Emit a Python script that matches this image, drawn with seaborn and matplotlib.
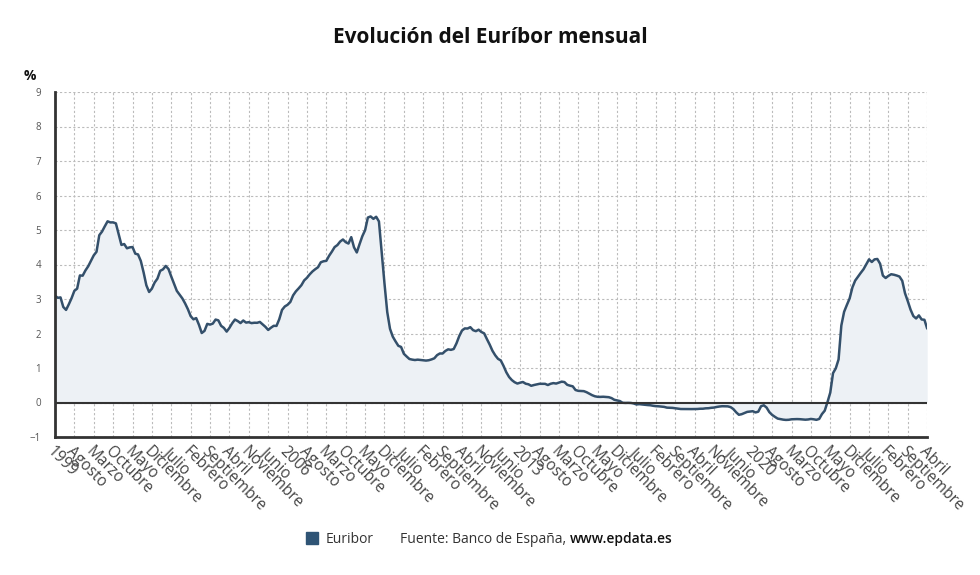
import numpy as np
import pandas as pd
import seaborn as sns
import matplotlib.pyplot as plt
from matplotlib.ticker import MultipleLocator
from matplotlib.lines import Line2D

# Euribor mensual (Banco de España), enero 1999 - abril 2025
euribor = [
    3.095, 3.035, 3.046, 2.769, 2.684, 2.847, 3.025, 3.237, 3.300, 3.683, 3.676, 3.828,  # 1999
    3.949, 4.109, 4.265, 4.369, 4.849, 4.955, 5.108, 5.252, 5.220, 5.221, 5.191, 4.880,  # 2000
    4.567, 4.593, 4.470, 4.497, 4.506, 4.315, 4.291, 4.102, 3.773, 3.398, 3.204, 3.301,  # 2001
    3.478, 3.590, 3.816, 3.859, 3.958, 3.868, 3.650, 3.445, 3.236, 3.126, 3.017, 2.872,  # 2002
    2.705, 2.504, 2.411, 2.447, 2.252, 2.014, 2.076, 2.279, 2.258, 2.287, 2.404, 2.381,  # 2003
    2.223, 2.163, 2.055, 2.163, 2.297, 2.404, 2.361, 2.302, 2.377, 2.316, 2.328, 2.301,  # 2004
    2.312, 2.310, 2.335, 2.265, 2.193, 2.103, 2.168, 2.223, 2.220, 2.414, 2.684, 2.783,  # 2005
    2.833, 2.914, 3.105, 3.221, 3.308, 3.401, 3.539, 3.615, 3.715, 3.799, 3.864, 3.921,  # 2006
    4.064, 4.094, 4.106, 4.253, 4.373, 4.505, 4.564, 4.666, 4.725, 4.647, 4.607, 4.793,  # 2007
    4.498, 4.349, 4.590, 4.820, 4.994, 5.361, 5.393, 5.323, 5.384, 5.248, 4.350, 3.452,  # 2008
    2.622, 2.135, 1.909, 1.771, 1.644, 1.610, 1.412, 1.334, 1.261, 1.243, 1.231, 1.242,  # 2009
    1.232, 1.225, 1.215, 1.225, 1.249, 1.281, 1.373, 1.421, 1.420, 1.495, 1.541, 1.526,  # 2010
    1.550, 1.714, 1.924, 2.086, 2.147, 2.144, 2.183, 2.097, 2.067, 2.110, 2.044, 2.004,  # 2011
    1.837, 1.678, 1.499, 1.368, 1.266, 1.219, 1.061, 0.877, 0.740, 0.650, 0.588, 0.549,  # 2012
    0.575, 0.594, 0.545, 0.528, 0.484, 0.507, 0.525, 0.542, 0.543, 0.541, 0.506, 0.543,  # 2013
    0.562, 0.549, 0.577, 0.604, 0.592, 0.513, 0.488, 0.469, 0.362, 0.338, 0.335, 0.329,  # 2014
    0.298, 0.255, 0.212, 0.180, 0.165, 0.163, 0.167, 0.161, 0.154, 0.128, 0.079, 0.059,  # 2015
    0.042, -0.008, -0.012, -0.010, -0.013, -0.028, -0.056, -0.048, -0.057, -0.069, -0.074, -0.080,  # 2016
    -0.095, -0.106, -0.110, -0.119, -0.127, -0.149, -0.154, -0.156, -0.168, -0.180, -0.189, -0.190,  # 2017
    -0.189, -0.191, -0.191, -0.190, -0.188, -0.181, -0.180, -0.169, -0.166, -0.154, -0.147, -0.129,  # 2018
    -0.116, -0.108, -0.109, -0.112, -0.134, -0.190, -0.283, -0.356, -0.339, -0.304, -0.272, -0.261,  # 2019
    -0.253, -0.288, -0.266, -0.108, -0.081, -0.147, -0.279, -0.359, -0.415, -0.466, -0.481, -0.497,  # 2020
    -0.505, -0.501, -0.487, -0.484, -0.481, -0.484, -0.491, -0.498, -0.492, -0.477, -0.487, -0.502,  # 2021
    -0.477, -0.335, -0.237, 0.013, 0.287, 0.852, 0.992, 1.249, 2.233, 2.629, 2.828, 3.018,  # 2022
    3.337, 3.534, 3.647, 3.757, 3.862, 4.007, 4.149, 4.073, 4.149, 4.160, 4.022, 3.679,  # 2023
    3.609, 3.671, 3.718, 3.703, 3.680, 3.650, 3.526, 3.166, 2.936, 2.691, 2.506, 2.436,  # 2024
    2.525, 2.407, 2.398, 2.143,  # 2025
]
meses = ["Enero", "Febrero", "Marzo", "Abril", "Mayo", "Junio", "Julio", "Agosto",
         "Septiembre", "Octubre", "Noviembre", "Diciembre"]
start_year = 1999
tick_step = 7

df = pd.DataFrame({"idx": np.arange(len(euribor)), "Euribor": euribor})

line_color = "#34506b"

sns.set_style("white")
plt.rcParams["font.family"] = ["Open Sans", "DejaVu Sans"]

fig = plt.figure(figsize=(9.8, 5.75), dpi=100)
ax = fig.add_axes([0.0561, 0.24, 0.89, 0.6])

ax.fill_between(df["idx"], df["Euribor"], 0, color="#edf1f5", lw=0)
sns.lineplot(data=df, x="idx", y="Euribor", ax=ax, color=line_color, lw=1.8, legend=False)
ax.axhline(0, color="#333333", lw=1.5, zorder=3)

ax.set_xlim(0, len(euribor) - 1)
ax.set_ylim(-1, 9)
ax.yaxis.set_major_locator(MultipleLocator(1))

ticks = list(range(0, len(euribor), tick_step))
labels = []
for t in ticks:
    m = t % 12
    labels.append(str(start_year + t // 12) if m == 0 else meses[m])
ax.set_xticks(ticks)
ax.set_xticklabels(labels, rotation=-45, ha="left", va="top", rotation_mode="anchor",
                   fontsize=11.2, color="#444444")
ax.set_xticks(range(len(euribor)), minor=True)
ax.tick_params(axis="x", which="major", length=4, width=1.2, color="#333333", pad=1)
ax.tick_params(axis="x", which="minor", length=2, width=0.8, color="#333333")
ax.tick_params(axis="y", length=4, width=1.2, color="#333333", labelsize=7, labelcolor="#555555", pad=6)

ax.grid(True, which="major", color="#bbbbbb", ls=(0, (2, 2)), lw=0.8)
ax.set_axisbelow(True)
for s in ["top", "right"]:
    ax.spines[s].set_visible(False)
ax.spines["left"].set_color("#333333")
ax.spines["left"].set_linewidth(2)
ax.spines["bottom"].set_color("#333333")
ax.spines["bottom"].set_linewidth(2)
ax.set_xlabel("")
ax.set_ylabel("")

fig.text(0.5, 0.934, "Evolución del Euríbor mensual", ha="center", va="center",
         fontsize=15, fontweight="bold", color="#111111")
fig.text(0.03, 0.867, "%", ha="center", va="center", fontsize=10, fontweight="bold", color="#111111")

# leyenda y fuente
handle = Line2D([], [], marker="s", ls="", color="#2f5475", markersize=8)
fig.legend([handle], ["Euribor"], loc="center", bbox_to_anchor=(0.343, 0.062), frameon=False,
           fontsize=10, handletextpad=0.0, labelcolor="#333333")
src = fig.text(0.408, 0.062, "Fuente: Banco de España, ", ha="left", va="center",
               fontsize=10, color="#333333")
fig.canvas.draw()
ax.annotate("www.epdata.es", xy=(1, 0.5), xycoords=src, ha="left", va="center",
            fontsize=10, color="#111111", fontweight="semibold", annotation_clip=False)

fig.savefig("out.png", dpi=100)
